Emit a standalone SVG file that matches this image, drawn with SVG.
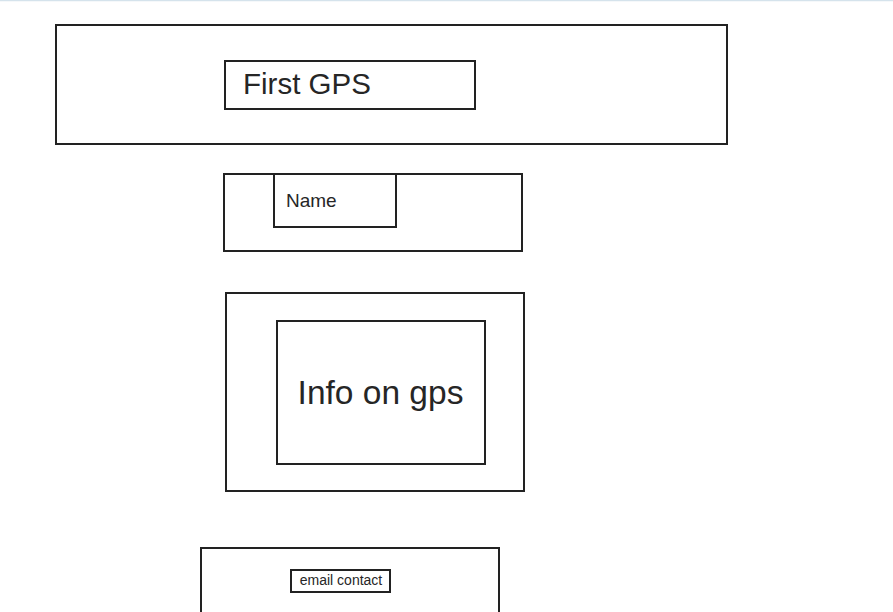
<svg xmlns="http://www.w3.org/2000/svg" width="893" height="612" viewBox="0 0 893 612">
<style>
.box{fill:none;stroke:#222;stroke-width:2}
.t{font-family:"Liberation Sans",Arial,sans-serif;fill:#262626}
</style>
<rect x="0" y="0" width="893" height="612" fill="#fff"/>
<line x1="0" y1="0.5" x2="893" y2="0.5" stroke="#d5e3ec" stroke-width="1.5"/>
<g id="header">
<rect class="box" x="56" y="25" width="671" height="119"/>
<g id="first-gps">
<rect class="box" x="225" y="61" width="250" height="48"/>
<text class="t" x="243" y="94" font-size="29.5">First GPS</text>
</g>
</g>
<g id="name-section">
<rect class="box" x="224" y="174" width="298" height="77"/>
<g id="name">
<rect class="box" x="274" y="174" width="122" height="53"/>
<text class="t" x="286" y="207" font-size="19">Name</text>
</g>
</g>
<g id="info-section">
<rect class="box" x="226" y="293" width="298" height="198"/>
<g id="info">
<rect class="box" x="277" y="321" width="208" height="143"/>
<text class="t" x="380.5" y="404" font-size="33.5" text-anchor="middle">Info on gps</text>
</g>
</g>
<g id="contact-section">
<rect class="box" x="201" y="548" width="298" height="80"/>
<g id="email">
<rect class="box" x="291" y="570" width="99" height="22"/>
<text class="t" x="341" y="585" font-size="14" text-anchor="middle">email contact</text>
</g>
</g>
<g id="connectors"/>
</svg>
